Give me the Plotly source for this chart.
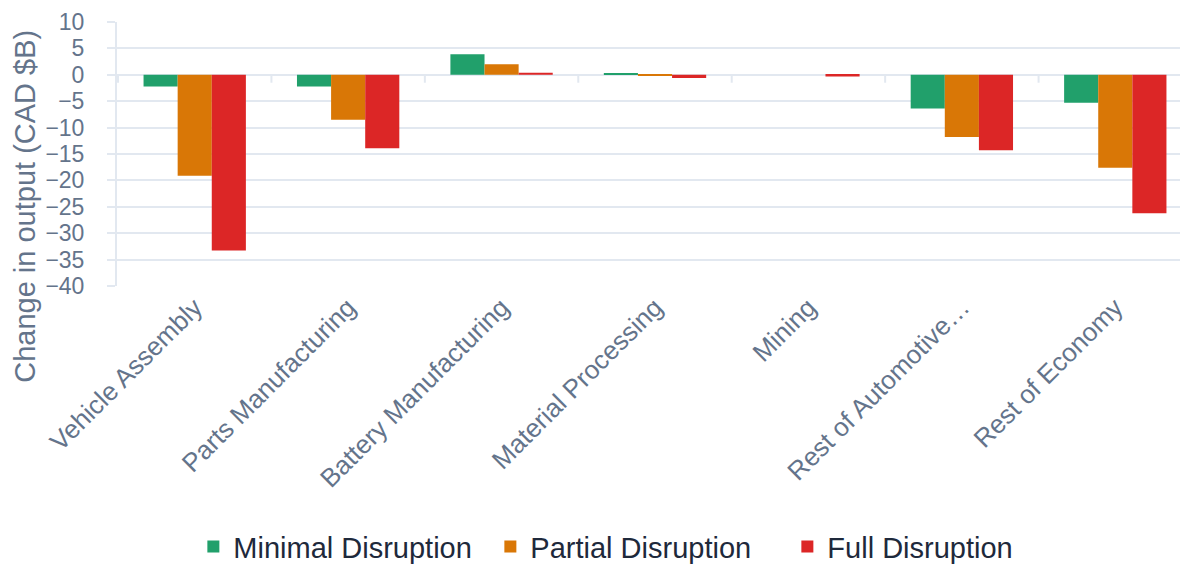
import plotly.graph_objects as go

categories = ['Vehicle Assembly', 'Parts Manufacturing', 'Battery Manufacturing',
              'Material Processing', 'Mining', 'Rest of Automotive…', 'Rest of Economy']
minimal = [-2.2, -2.2, 3.9, 0.3, 0.0, -6.4, -5.3]
partial = [-19.1, -8.5, 2.0, -0.2, 0.0, -11.8, -17.6]
full = [-33.3, -13.9, 0.4, -0.6, -0.3, -14.3, -26.2]

series = [('Minimal Disruption', minimal, '#21a06b'),
          ('Partial Disruption', partial, '#d97706'),
          ('Full Disruption', full, '#dc2626')]

fig = go.Figure()
for name, vals, color in series:
    fig.add_trace(go.Bar(x=categories, y=vals, name=name, marker_color=color,
                         marker_line_width=0))

# small tick marks on the zero line between categories
for i in range(len(categories) + 1):
    fig.add_shape(type='line', xref='x', yref='y', x0=i - 0.5, x1=i - 0.5, y0=0, y1=-1.5,
                  line=dict(color='#e2e8f0', width=2), layer='below')

# y axis title, centred on the whole chart rather than the plot area
fig.add_annotation(text='Change in output (CAD $B)', textangle=-90, showarrow=False,
                   xref='paper', yref='paper', x=0, y=0.30, xanchor='center', yanchor='middle',
                   xshift=-92, font=dict(size=29, color='#64748b'))

fig.update_layout(
    width=1188, height=565,
    margin=dict(l=109, r=3, t=14, b=286),
    plot_bgcolor='white', paper_bgcolor='white',
    font=dict(family='Liberation Sans, Arial, sans-serif', size=22, color='#64748b'),
    barmode='group', bargap=0.333, bargroupgap=0,
    legend=dict(orientation='h', x=0.485, xanchor='center', y=-0.98, yanchor='middle',
                font=dict(size=29, color='#1e293b'), itemwidth=30, traceorder='normal',
                entrywidth=252, entrywidthmode='pixels'),
    showlegend=True,
)
fig.update_xaxes(tickangle=-45, showgrid=False, showline=False, ticks='', automargin=False,
                 tickfont=dict(size=26, color='#64748b'))
fig.update_yaxes(range=[-40, 10], dtick=5, showgrid=True, gridcolor='#e2e8f0', gridwidth=2,
                 zeroline=True, zerolinecolor='#e2e8f0', zerolinewidth=2,
                 showline=True, linecolor='#e2e8f0', linewidth=2, automargin=False,
                 ticks='outside', ticklen=8, tickcolor='#e2e8f0', tickwidth=2,
                 ticklabelstandoff=18, ticklabeloverflow='allow',
                 tickfont=dict(size=23, color='#64748b'))

fig.write_html('out.html')
